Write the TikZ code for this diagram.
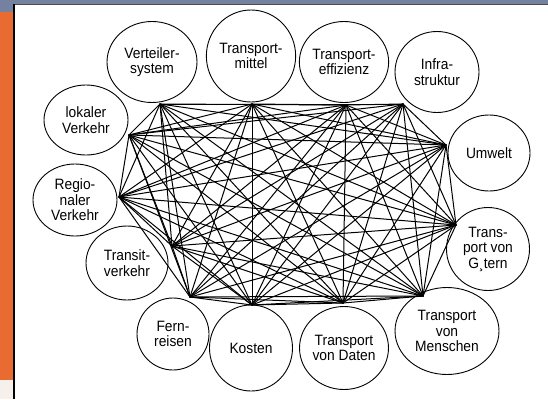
\documentclass[tikz,border=0pt]{standalone}
\usepackage{fontspec}
\setmainfont{Liberation Sans}[FakeStretch=0.92]
\usepackage{tikz}
\usetikzlibrary{shapes.geometric}
\usepackage{xcolor}
\definecolor{slidebar}{RGB}{116,130,160}
\definecolor{slideorange}{RGB}{233,107,50}
\definecolor{slidepale}{RGB}{246,240,236}

\begin{document}
\begin{tikzpicture}[x=1pt, y=-1pt,
  every node/.style = { shape=ellipse, draw, line width=0.9pt, inner sep=0pt,
	align=center, font=\fontsize{15}{15.5}\selectfont},
  link/.style = { line width=1pt, line cap=round}]

\useasboundingbox (0,0) rectangle (548,399);

% slide frame
\fill[slidebar] (0,0) rectangle (548,3.5);
\fill[slidebar] (0,0) rectangle (13,12);
\fill[slideorange] (0,12) rectangle (13,380);
\fill[slidepale] (0,380) rectangle (13,399);
\draw[black!70, line width=0.8pt] (14,4) -- (548,4);
\draw[line width=1.4pt] (14,4) -- (14,399);

% topics
\node[minimum width=90pt, minimum height=81pt] (vert)   at (152,62)  {Verteiler-\\system};
\node[minimum width=84pt, minimum height=70pt] (lok)    at (86,120)  {lokaler\\Verkehr};
\node[minimum width=84pt, minimum height=72pt] (regio)  at (75,200)  {Regio-\\naler\\Verkehr};
\node[minimum width=82pt, minimum height=74pt] (trans)  at (127,263) {Transit-\\verkehr};
\node[minimum width=72pt, minimum height=72pt] (fern)   at (173,334) {Fern-\\reisen};
\node[minimum width=83pt, minimum height=86pt] (kost)   at (251,348) {Kosten};
\node[minimum width=83pt, minimum height=83pt] (daten)  at (344,348) {Transport\\von Daten};
\node[minimum width=104pt, minimum height=87pt] (mensch) at (447,331) {Transport\\von\\Menschen};
\node[minimum width=83pt, minimum height=83pt] (guet)   at (488,249) {Trans-\\port von\\G¸tern};
\node[minimum width=82pt, minimum height=76pt] (umw)    at (489,153) {Umwelt};
\node[minimum width=84pt, minimum height=81pt] (infra)  at (437,72)  {Infra-\\struktur};
\node[minimum width=83pt, minimum height=81pt] (eff)    at (344,62)  {Transport-\\effizienz};
\node[minimum width=82pt, minimum height=92pt] (mittel) at (251,56)  {Transport-\\mittel};

% meeting points of the links
\coordinate (vertH)   at (160,104);
\coordinate (lokH)    at (129,135);
\coordinate (regioH)  at (119,197);
\coordinate (transH)  at (172,246);
\coordinate (fernH)   at (190,297);
\coordinate (kostH)   at (252,305);
\coordinate (datenH)  at (343,303);
\coordinate (menschH) at (423,296);
\coordinate (guetH)   at (456,225);
\coordinate (umwH)    at (446,145);
\coordinate (infraH)  at (403,104);
\coordinate (effH)    at (346,105);
\coordinate (mittelH) at (252,104);

% every topic with every other
\foreach \a [count=\i] in {vertH,lokH,regioH,transH,fernH,kostH,datenH,menschH,guetH,umwH,infraH,effH,mittelH}
  \foreach \b [count=\j] in {vertH,lokH,regioH,transH,fernH,kostH,datenH,menschH,guetH,umwH,infraH,effH,mittelH}
	 {\ifnum\i<\j \draw[link] (\a) -- (\b); \fi}
\end{tikzpicture}
\end{document}
